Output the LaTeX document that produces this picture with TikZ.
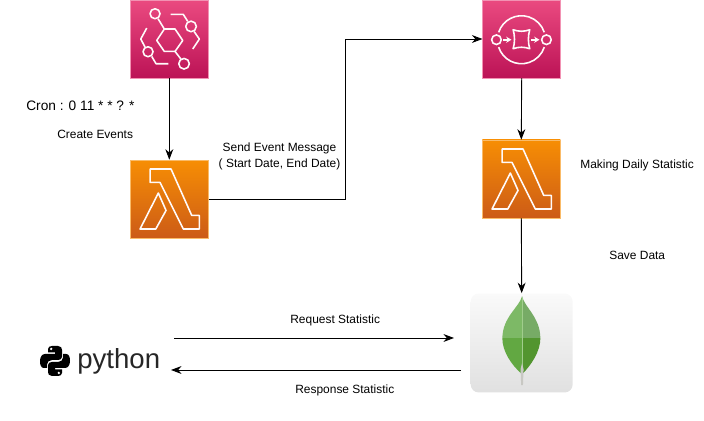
\documentclass[tikz,border=0pt]{standalone}
\usepackage{fontspec}
\setmainfont{Liberation Sans}
\usetikzlibrary{arrows.meta}
\definecolor{pinktop}{HTML}{EA4A80}
\definecolor{pinkbot}{HTML}{BC1356}
\definecolor{orangetop}{HTML}{F78E04}
\definecolor{orangebot}{HTML}{CC5B17}
\tikzset{
pinkbox/.style={minimum size=1.56cm, inner sep=0pt, top color=pinktop, bottom color=pinkbot, draw=pinktop!60!white, line width=0.3pt},
orangebox/.style={minimum size=1.56cm, inner sep=0pt, top color=orangetop, bottom color=orangebot, draw=orangetop!60!white, line width=0.3pt},
leafbox/.style={minimum width=2.04cm, minimum height=1.98cm, inner sep=0pt, rounded corners=0.16cm, top color=white!98!black, bottom color=white!88!black},
icon/.style={draw=white!92!pink, line width=0.9pt, line join=round},
txt/.style={font=\fontsize{6.8}{9}\selectfont, inner sep=0pt, anchor=west, align=left},
link/.style={-{Stealth[length=6pt,width=4.5pt]}, line width=0.5pt},
rule/.pic={
  \draw[icon] (26.7,40.7) -- (34.3,29.3) -- (45,29.3) -- (52.7,40.7) -- (45,51.7) -- (34.3,51.7) -- cycle;
  \draw[icon] (25,14) circle [radius=5];
  \draw[icon] (61,26.7) circle [radius=5.3];
  \draw[icon] (18,52) circle [radius=5];
  \draw[icon] (54,64) circle [radius=5.3];
  \draw[icon] (28,19) -- (34.3,29.3);
  \draw[icon] (45,51.7) -- (51,59.5);
  \draw[icon] (40.7,14.7) -- (53.3,14.7) -- (57.7,21.7);
  \draw[icon] (64,31.7) -- (69.3,39.3) -- (62.7,49.3);
  \draw[icon] (16.7,28.3) -- (10.7,39.3) -- (15,47.3);
  \draw[icon] (21.7,56.7) -- (26,64) -- (38.3,64);
  },
queue/.pic={
  \draw[icon] (14,40) circle [radius=4.8];
  \draw[icon] (64,40) circle [radius=4.8];
  \draw[icon] (16.2,32.6) arc [start angle=198, end angle=342, radius=24];
  \draw[icon] (16.2,47.4) arc [start angle=162, end angle=18, radius=24];
  \draw[icon, -{Stealth[length=3pt,width=3.5pt]}] (21,40) -- (29,40);
  \draw[icon, -{Stealth[length=3pt,width=3.5pt]}] (49,40) -- (57,40);
  \draw[icon] (30.7,30) .. controls (36,32) and (42,32) .. (47.3,30)
    .. controls (45.5,36) and (45.5,43) .. (47.3,49)
    .. controls (42,47) and (36,47) .. (30.7,49)
    .. controls (32.5,43) and (32.5,36) .. (30.7,30) -- cycle;
  },
lambda/.pic={
  \draw[icon] (20,9.3) -- (41,9.3) -- (61.7,55.7) -- (69.3,55.7) -- (69.3,69.3) -- (53.3,69.3)
    -- (30,22.7) -- (20,22.7) -- cycle;
  \draw[icon] (28.3,33.3) -- (36,50.7) -- (25.7,69.3) -- (10,69.3) -- cycle;
  },
leaf/.pic={
  \begin{scope}
  \clip (51.7,3) .. controls (49,14) and (32,24) .. (32,45.3)
    .. controls (32,58) and (41,72) .. (51.7,81)
    .. controls (61,72) and (70,58) .. (70,45.3)
    .. controls (70,24) and (54,14) .. (51.7,3) -- cycle;
  \fill[color={rgb,255:red,125;green,185;blue,102}] (30,0) rectangle (51.7,45.3);
  \fill[color={rgb,255:red,119;green,171;blue,102}] (51.7,0) rectangle (72,45.3);
  \fill[color={rgb,255:red,98;green,168;blue,66}] (30,45.3) rectangle (51.7,83);
  \fill[color={rgb,255:red,82;green,149;blue,47}] (51.7,45.3) rectangle (72,83);
  \fill[color={rgb,255:red,160;green,205;blue,140}] (51.3,3) rectangle (52.1,75);
  \end{scope}
  \fill[color={rgb,255:red,200;green,200;blue,195}] (50.2,76) -- (51.7,70) -- (53.2,76) -- (52.6,92) -- (50.8,92) -- cycle;
  },
snake/.pic={
  \fill (-3,-15) -- (3,-15) .. controls (6,-15) and (7,-13) .. (7,-11) -- (7,-4)
    .. controls (7,-2) and (5,-1) .. (3,-1) -- (-3,-1)
    .. controls (-6,-1) and (-8,1) .. (-8,3.5) -- (-8,7) -- (-11,7)
    .. controls (-14,7) and (-15,4) .. (-15,0)
    .. controls (-15,-4) and (-13,-7) .. (-10,-7) -- (0,-7) -- (0,-8.5) -- (-7,-8.5) -- (-7,-12)
    .. controls (-7,-14) and (-5,-15) .. (-3,-15) -- cycle;
  \fill[white] (-3.8,-12) circle [radius=1.3];
  }
}
\begin{document}
\begin{tikzpicture}[x=0.02cm, y=-0.02cm]
\useasboundingbox (0,0) rectangle (704,421);
\node[pinkbox] (rulebox) at (169.3,39) {};
\node[orangebox] (funcA) at (169.3,199) {};
\node[pinkbox] (queuebox) at (521.7,39) {};
\node[orangebox] (funcB) at (521.3,179) {};
\node[leafbox] (mongobox) at (521.7,343) {};
\pic at (rulebox.north west) {rule};
\pic at (funcA.north west) {lambda};
\pic at (queuebox.north west) {queue};
\pic at (funcB.north west) {lambda};
\pic at (mongobox.north west) {leaf};
\pic at (55,361) {snake};
\pic[rotate=180] at (55,361) {snake};
\node[inner sep=0pt, anchor=west, text=black!85, font=\fontsize{15.7}{18}\selectfont] (pythonname) at (77,361) {python};
\coordinate (reqstart) at (174,338);
\coordinate (reqend) at (454,338);
\coordinate (respstart) at (461,370);
\coordinate (respend) at (171,370);
\draw[link] (rulebox.south) -- (funcA.north);
\draw[link] (funcA.east) -- (345.5,199) |- (queuebox.west);
\draw[link] (queuebox.south) -- (funcB.north);
\draw[link] (funcB.south) -- (mongobox.north);
\draw[link] (reqstart) -- (reqend);
\draw[link] (respstart) -- (respend);
\node[txt, font=\fontsize{7.8}{9}\selectfont] (cronlabel) at (26,105.5) {Cron : 0 11 * * ? *};
\node[txt] (createlabel) at (57,134.5) {Create Events};
\node[txt, align=center, anchor=center, font=\fontsize{6.8}{9}\selectfont] (sendlabel) at (279.5,156.5) {Send Event Message\\( Start Date, End Date)};
\node[txt] (dailylabel) at (580,165) {Making Daily Statistic};
\node[txt] (savelabel) at (609,255.5) {Save Data};
\node[txt] (reqlabel) at (290,320) {Request Statistic};
\node[txt] (resplabel) at (295,390) {Response Statistic};
\end{tikzpicture}
\end{document}
